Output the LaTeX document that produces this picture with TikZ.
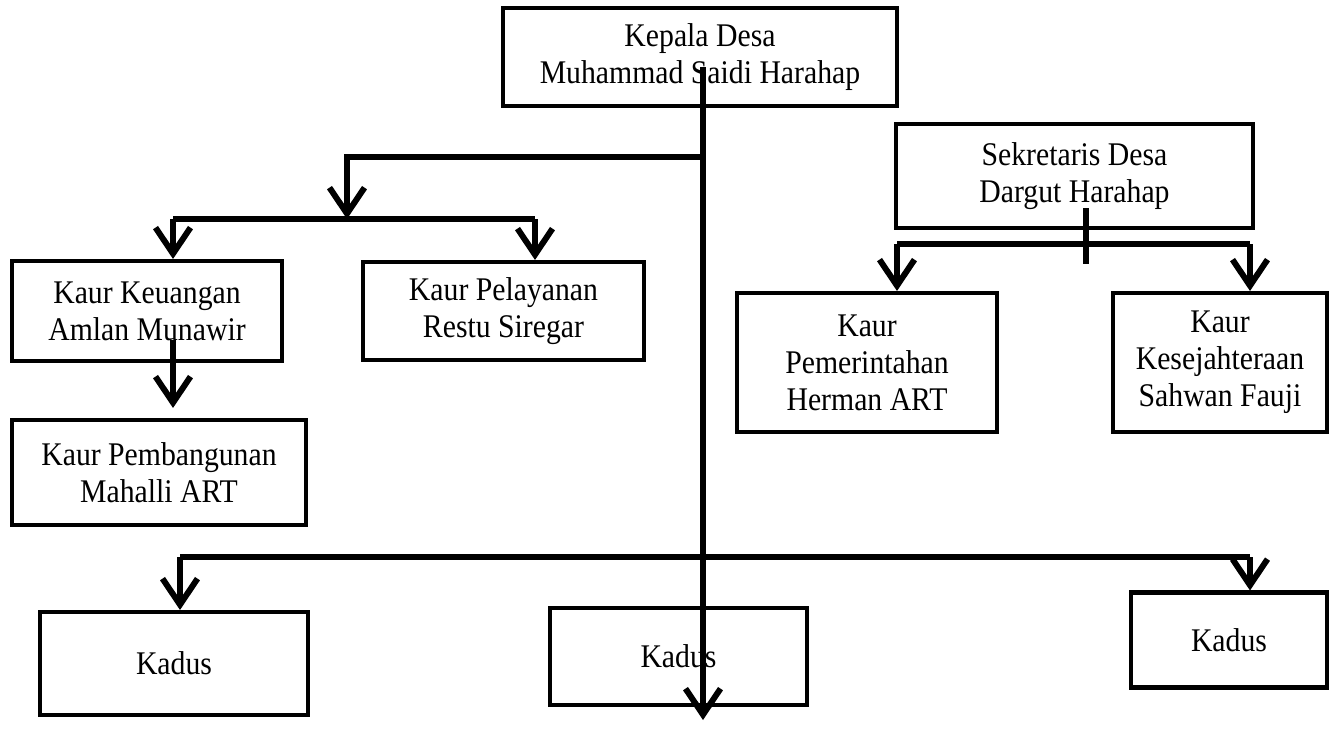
\documentclass[tikz,border=0pt]{standalone}
\usepackage{fontspec}
\setmainfont{Liberation Serif}[FakeStretch=0.9]
\usetikzlibrary{arrows.meta}

\begin{document}
\begin{tikzpicture}
  \def\linksize{3.4pt}
  \tikzstyle{unit} = [rectangle, draw, line width=2.3pt, align=center, inner sep=0pt, font=\fontsize{18.8}{21}\selectfont]
  \tikzstyle{link} = [line width=\linksize]
  \tikzstyle{arrowlink} = [link, -{Straight Barb[length=0.52cm, width=0.7cm]}]

  \useasboundingbox (0, 0) rectangle (26.66, -14.84);

  \node[unit, minimum width=7.88cm, minimum height=1.96cm] (kades) at (14.00, -1.14) {Kepala Desa\\Muhammad Saidi Harahap};
  \node[unit, minimum width=7.14cm, minimum height=2.08cm] (sekdes) at (21.49, -3.52) {Sekretaris Desa\\Dargut Harahap};

  \node[unit, minimum width=5.40cm, minimum height=2.00cm] (keuangan) at (2.94, -6.22) {Kaur Keuangan\\Amlan Munawir};
  \node[unit, minimum width=5.62cm, minimum height=1.96cm] (pelayanan) at (10.07, -6.22) {Kaur Pelayanan\\Restu Siregar};
  \node[unit, minimum width=5.88cm, minimum height=2.10cm] (pembangunan) at (3.18, -9.45) {Kaur Pembangunan\\Mahalli ART};

  \node[unit, minimum width=5.20cm, minimum height=2.78cm] (pemerintahan) at (17.34, -7.25) {Kaur\\Pemerintahan\\Herman ART};
  \node[unit, minimum width=4.28cm, minimum height=2.78cm] (kesejahteraan) at (24.40, -7.25) {Kaur\\Kesejahteraan\\Sahwan Fauji};

  \node[unit, minimum width=5.36cm, minimum height=2.06cm] (kadusA) at (3.48, -13.27) {Kadus};
  \node[unit, minimum width=5.14cm, minimum height=1.94cm] (kadusB) at (13.57, -13.13) {Kadus};
  \node[unit, minimum width=3.92cm, minimum height=1.90cm] (kadusC) at (24.58, -12.80) {Kadus};

  \coordinate (top) at (14.06, -1.34);
  \coordinate (bottom) at (14.06, -14.40);
  \coordinate (split) at (14.06, -3.14);
  \coordinate (turn) at (6.94, -3.14);
  \coordinate (mid) at (6.94, -4.38);
  \coordinate (midA) at (3.46, -4.38);
  \coordinate (midB) at (10.70, -4.38);
  \coordinate (keuout) at (3.46, -6.80);
  \coordinate (sekin) at (21.72, -4.16);
  \coordinate (sekout) at (21.72, -5.28);
  \coordinate (sekA) at (17.94, -4.88);
  \coordinate (sekB) at (25.00, -4.88);
  \coordinate (lowA) at (3.60, -11.14);
  \coordinate (lowB) at (25.00, -11.14);

  \draw[arrowlink] (top) -- (bottom);
  \draw[arrowlink] (split) -- (turn) -- (mid);
  \draw[link] (midA) -- (midB);
  \draw[arrowlink] (midA) -- (midA |- keuangan.north);
  \draw[arrowlink] (midB) -- (midB |- pelayanan.north);
  \draw[arrowlink] (keuout) -- ([yshift=0.2cm]keuout |- pembangunan.north);

  \draw[link] (sekin) -- (sekout);
  \draw[link] (sekA) -- (sekB);
  \draw[arrowlink] (sekA) -- (sekA |- pemerintahan.north);
  \draw[arrowlink] (sekB) -- (sekB |- kesejahteraan.north);

  \draw[link] (lowA) -- (lowB);
  \draw[arrowlink] (lowA) -- (lowA |- kadusA.north);
  \draw[arrowlink] (lowB) -- (lowB |- kadusC.north);
\end{tikzpicture}
\end{document}
